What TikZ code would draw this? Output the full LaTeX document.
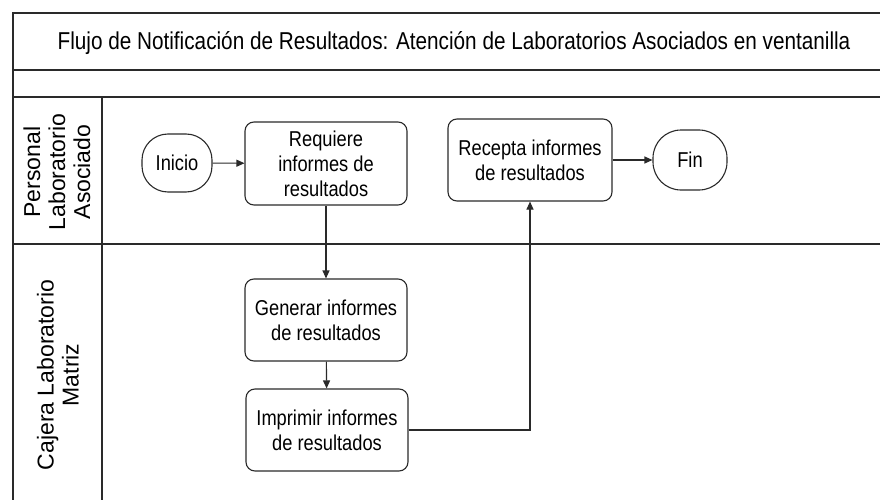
\documentclass[tikz,border=0pt]{standalone}
\usepackage{fontspec}
\setmainfont{Liberation Sans}
\newfontfamily\narrowfont[FakeStretch=0.85]{Liberation Sans}
\usetikzlibrary{arrows.meta}
\definecolor{linec}{HTML}{2A2A2A}
\tikzset{
  frameline/.style={draw=linec, line width=1.3pt},
  procbox/.style={draw=linec, line width=1.1pt, rectangle, rounded corners=9pt,
    minimum width=162pt, minimum height=82pt, align=center, inner sep=2pt,
    font=\narrowfont\fontsize{21.5}{25}\selectfont},
  termbox/.style={draw=linec, line width=1.1pt, rectangle, rounded corners=26pt,
    minimum height=58pt, align=center,
    font=\narrowfont\fontsize{21.5}{25}\selectfont},
  flow/.style={draw=linec, line width=1.1pt, -{Triangle[length=8pt,width=7pt]}},
  lanelabel/.style={rotate=90, align=center, font=\fontsize{23}{25}\selectfont},
  titletext/.style={font=\narrowfont\fontsize{24.4}{28}\selectfont}
}
\begin{document}
\begin{tikzpicture}[x=1pt,y=-1pt]
\useasboundingbox (0,0) rectangle (880,500);
% frame
\draw[frameline] (880,13) -- (13,13) -- (13,500);
\draw[frameline] (13,70) -- (880,70);
\draw[frameline] (13,97) -- (880,97);
\draw[frameline] (13,244) -- (880,244);
\draw[frameline] (102,97) -- (102,500);
% title
\node[titletext] (title) at (454,43) {Flujo de Notificación de Resultados: Atención de Laboratorios Asociados en ventanilla};
% lane labels
\node[lanelabel] (lane1) at (57,172) {Personal\\Laboratorio\\Asociado};
\node[lanelabel] (lane2) at (58,375) {Cajera Laboratorio\\Matriz};
% nodes
\node[termbox, minimum width=70pt] (inicio) at (177,163) {Inicio};
\node[procbox, minimum height=83pt] (requiere) at (326,163.5) {Requiere\\informes de\\resultados};
\node[procbox, minimum width=164pt] (recepta) at (530,160) {Recepta informes\\de resultados};
\node[termbox, minimum width=74pt, minimum height=60pt, rounded corners=28pt] (fin) at (690,160) {Fin};
\node[procbox] (generar) at (326,320) {Generar informes\\de resultados};
\node[procbox] (imprimir) at (327,430) {Imprimir informes\\de resultados};
% connectors
\draw[flow] (inicio) -- (requiere);
\draw[flow] (requiere) -- (generar);
\draw[flow] (generar) -- (imprimir);
\draw[flow] (imprimir.east) -| (recepta.south);
\draw[flow] (recepta) -- (fin);
\end{tikzpicture}
\end{document}
